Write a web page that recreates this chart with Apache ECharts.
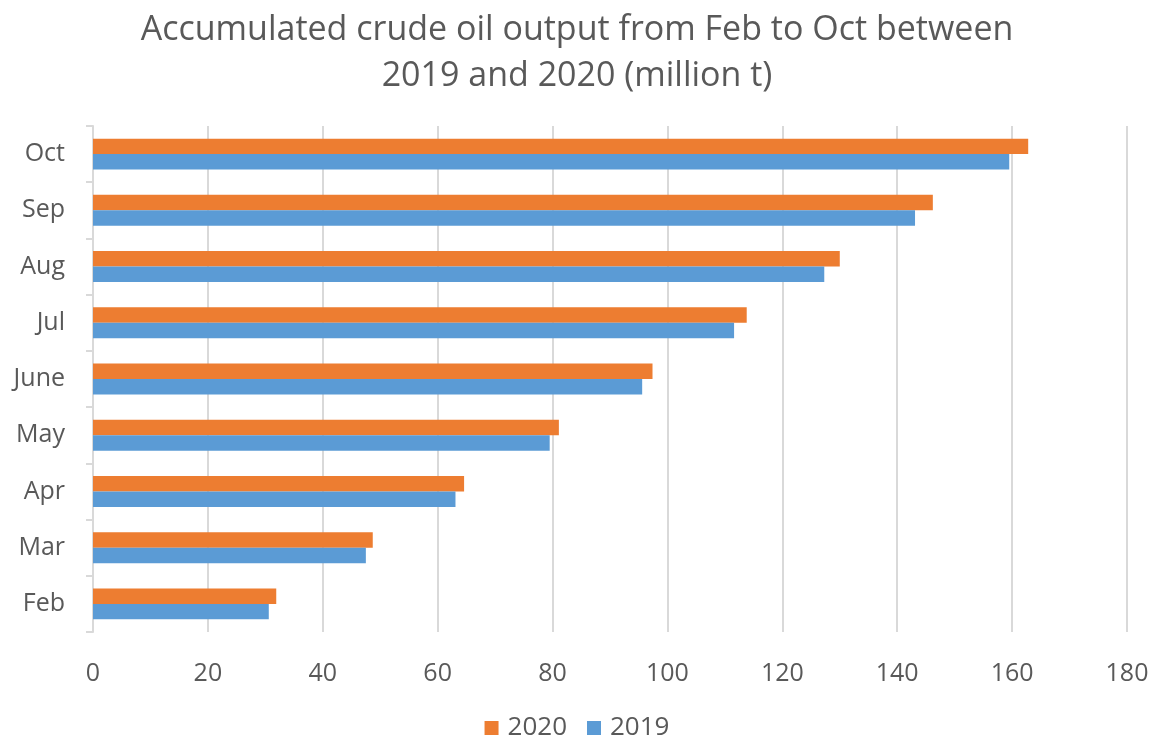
<!DOCTYPE html>
<html>
<head>
<meta charset="utf-8">
<script src="https://cdn.jsdelivr.net/npm/echarts@6/dist/echarts.min.js"></script>
<style>
  html, body { margin: 0; padding: 0; background: #ffffff; }
  #chart { width: 1154px; height: 742px; }
</style>
</head>
<body>
<div id="chart"></div>
<script>
// Months, listed bottom to top on the category axis
const months = ['Feb', 'Mar', 'Apr', 'May', 'June', 'Jul', 'Aug', 'Sep', 'Oct'];
// Accumulated crude oil output, million tonnes
const output2020 = [31.9, 48.7, 64.6, 81.1, 97.4, 113.8, 130.0, 146.2, 162.8];
const output2019 = [30.6, 47.5, 63.1, 79.5, 95.6, 111.6, 127.3, 143.1, 159.5];
const seriesNames = ['2020', '2019'];

const FONT = '"Open Sans", "Noto Sans", sans-serif';
const TEXT = '#595959';
const GRID = '#d9d9d9';

const chart = echarts.init(document.getElementById('chart'), null, { renderer: 'canvas' });

chart.setOption({
  animation: false,
  backgroundColor: '#ffffff',
  title: {
    text: 'Accumulated crude oil output from Feb to Oct between\n2019 and 2020 (million t)',
    left: 'center',
    top: 2,
    textStyle: {
      fontFamily: FONT,
      fontSize: 34,
      fontWeight: 'normal',
      color: TEXT,
      lineHeight: 46
    }
  },
  legend: {
    data: seriesNames,
    bottom: -4,
    left: 'center',
    itemWidth: 14,
    itemHeight: 14,
    itemGap: 20,
    icon: 'rect',
    textStyle: { fontFamily: FONT, fontSize: 26, color: TEXT, padding: [0, 0, 0, 4] }
  },
  grid: { left: 93, right: 27, top: 126, bottom: 110, containLabel: false },
  xAxis: {
    type: 'value',
    min: 0,
    max: 180,
    interval: 20,
    axisLine: { show: false },
    axisTick: { show: false },
    axisLabel: { fontFamily: FONT, fontSize: 25, color: TEXT, margin: 29 },
    splitLine: { show: true, lineStyle: { color: GRID, width: 2 } }
  },
  yAxis: {
    type: 'category',
    data: months,
    axisLine: { show: true, lineStyle: { color: GRID, width: 2 } },
    axisTick: { show: true, length: 7, lineStyle: { color: GRID, width: 2 } },
    axisLabel: { fontFamily: FONT, fontSize: 25, color: TEXT, margin: 28 }
  },
  series: [
    {
      name: '2020',
      type: 'bar',
      data: output2020,
      itemStyle: { color: '#ed7d31' },
      barGap: '0%',
      barCategoryGap: '45%'
    },
    {
      name: '2019',
      type: 'bar',
      data: output2019,
      itemStyle: { color: '#5b9bd5' },
      barGap: '0%',
      barCategoryGap: '45%'
    }
  ]
});
</script>
</body>
</html>
